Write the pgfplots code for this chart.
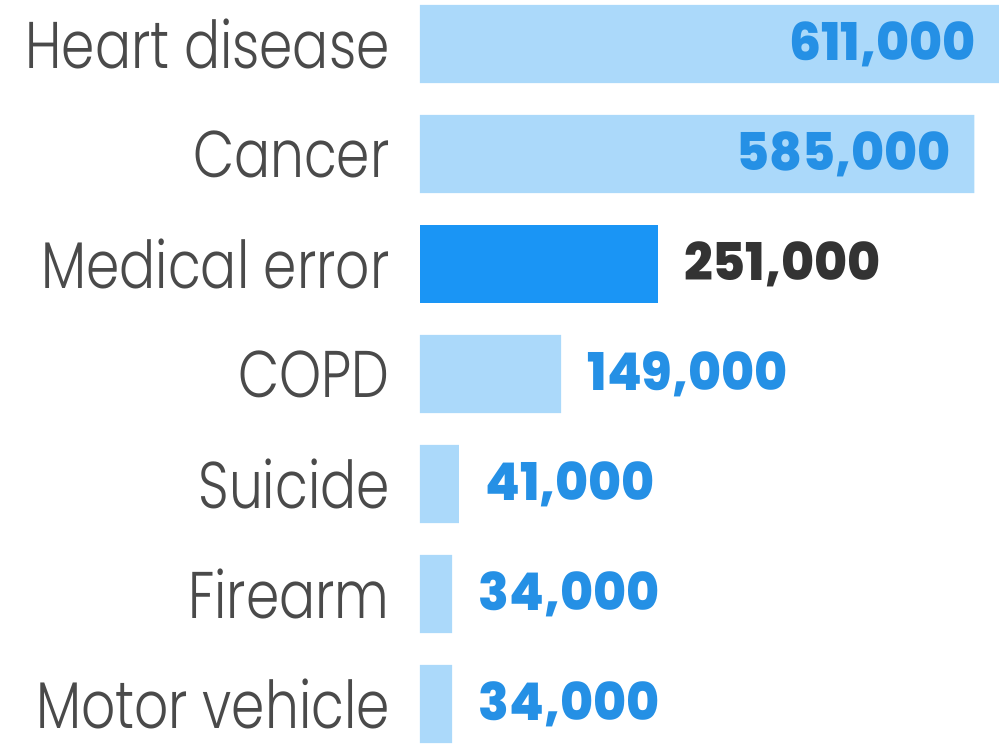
\documentclass[border=0pt]{standalone}
\usepackage{pgfplots}
\pgfplotsset{compat=1.18}
\usepackage{fontspec}
\setmainfont{Poppins}
\newfontfamily\labfont{Poppins Light}[FakeStretch=0.81]
\newfontfamily\valfont{Poppins ExtraBold}[FakeStretch=0.97]
\definecolor{barlight}{HTML}{ABD9FA}
\definecolor{bardark}{HTML}{1A95F5}
\definecolor{valblue}{HTML}{2590E5}
\definecolor{valdark}{HTML}{333333}
\definecolor{labgray}{HTML}{4A4A4A}
\begin{document}
\begin{tikzpicture}
\begin{axis}[
  scale only axis,
  width=289.5pt, height=375pt,
  xbar, bar shift=0pt, bar width=0.71,
  xmin=0, xmax=611000,
  ymin=-0.4, ymax=6.418,
  y dir=reverse,
  ytick={0,1,2,3,4,5,6},
  yticklabels={Heart disease,Cancer,Medical error,COPD,Suicide,Firearm,Motor vehicle},
  yticklabel style={font=\labfont\fontsize{33}{35}\selectfont, text=labgray, anchor=east, inner sep=0pt, xshift=-15pt},
  xtick=\empty,
  axis line style={draw=none},
  major tick length=0pt,
  clip=false,
  point meta=x,
  nodes near coords,
  nodes near coords style={font=\valfont\fontsize{26}{28}\selectfont, inner sep=0pt},
  /pgf/number format/.cd, fixed, precision=0, 1000 sep={,}, assume math mode=true,
]
\addplot[fill=barlight, draw=none,
  nodes near coords style={anchor=east, xshift=-11.5pt, text=valblue}]
  coordinates {(611000,0) (585000,1)};
\addplot[fill=bardark, draw=none,
  nodes near coords style={anchor=west, xshift=13pt, text=valdark}]
  coordinates {(251000,2)};
\addplot[fill=barlight, draw=none,
  nodes near coords style={anchor=west, xshift=13pt, text=valblue}]
  coordinates {(149000,3) (41000,4) (34000,5) (34000,6)};
\coordinate (sw) at (rel axis cs:0,0);
\coordinate (ne) at (rel axis cs:1,1);
\end{axis}
\pgfresetboundingbox
\path ([xshift=-210pt]sw) rectangle (ne);
\end{tikzpicture}
\end{document}
